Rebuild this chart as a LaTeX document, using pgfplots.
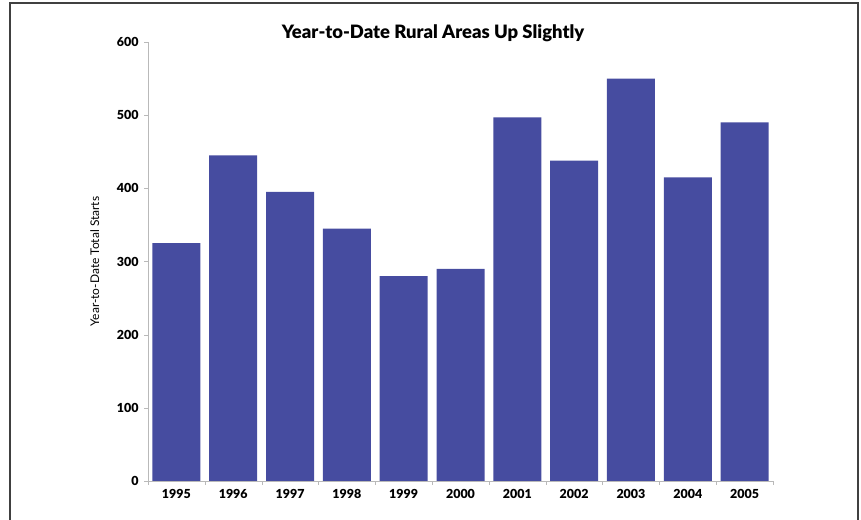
\documentclass[border=0pt]{standalone}
\usepackage{pgfplots}
\pgfplotsset{compat=1.18}
\usepackage{fontspec}
\setmainfont{Lato}
\newfontfamily\heavy{Lato Black}
\definecolor{barblue}{RGB}{70,76,160}
\begin{document}
\begin{tikzpicture}[x=1bp,y=1bp]
\useasboundingbox (0,0) rectangle (861,520);
\draw[black!75, line width=1.3bp] (10,-5) -- (10,517) -- (858,517) -- (858,-5);
\begin{axis}[
  at={(148bp,39bp)}, anchor=south west,
  width=625bp, height=439bp, scale only axis,
  ymin=0, ymax=600, xmin=-0.5, xmax=10.5,
  axis x line*=bottom, axis y line*=left,
  axis line style={gray!55, -, line width=0.8bp},
  ytick={0,100,...,600},
  xtick={0,...,10},
  xticklabels={1995,1996,1997,1998,1999,2000,2001,2002,2003,2004,2005},
  minor xtick={-0.5,0.5,...,10.5},
  major x tick style={draw=none},
  minor x tick style={gray!55},
  y tick style={gray!55},
  tick align=outside,
  major tick length=4bp, minor tick length=4bp,
  /pgf/number format/assume math mode=true,
  ticklabel style={font=\heavy\fontsize{12.5}{14}\selectfont},
  yticklabel style={xshift=-2bp},
  xticklabel style={yshift=-1bp},
  ylabel={Year-to-Date Total Starts},
  ylabel style={at={(axis description cs:-0.085,0.5)}, anchor=center, font=\fontsize{12}{14}\selectfont},
  ybar, bar width=48bp, bar shift=0pt,
]
\addplot[fill=barblue, draw=none] coordinates {
  (0,325) (1,445) (2,395) (3,345) (4,280) (5,290)
  (6,497) (7,438) (8,550) (9,415) (10,490)
};
\end{axis}
\node[font=\heavy\fontsize{18.5}{22}\selectfont] at (433,487) {Year-to-Date Rural Areas Up Slightly};
\end{tikzpicture}
\end{document}
